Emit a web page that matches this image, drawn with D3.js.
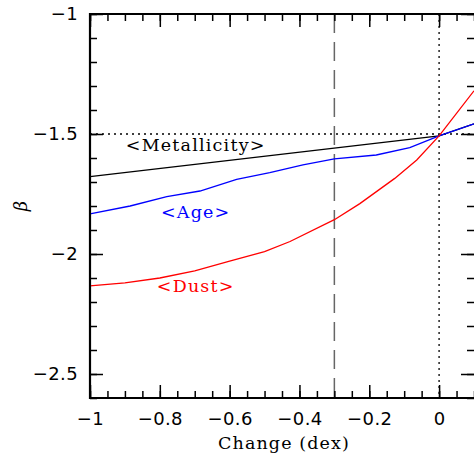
<!DOCTYPE html>
<html>
<head>
<meta charset="utf-8">
<script src="https://cdn.jsdelivr.net/npm/d3@7"></script>
<style>
  body { margin: 0; background: #fff; }
  svg { display: block; }
  .tick text { font-family: "DejaVu Sans", sans-serif; font-size: 18px; letter-spacing: 0.4px; fill: #000; }
</style>
</head>
<body>
<div id="chart"></div>
<script>
// series: [change (dex), beta]
const metallicity = [[-1, -1.678], [0, -1.508], [0.1, -1.458]];
const age = [[-1, -1.833], [-0.885, -1.80], [-0.78, -1.761], [-0.685, -1.7375], [-0.58, -1.689],
             [-0.485, -1.661], [-0.39, -1.629], [-0.30, -1.604], [-0.18, -1.5875], [-0.084, -1.557],
             [0, -1.508], [0.1, -1.458]];
const dust = [[-1, -2.133], [-0.9, -2.12], [-0.8, -2.10], [-0.7, -2.07], [-0.6, -2.03],
              [-0.5, -1.99], [-0.427, -1.948], [-0.3, -1.857], [-0.227, -1.79], [-0.127, -1.685],
              [-0.064, -1.608], [0, -1.508], [0.1, -1.32]];

const xMajor = [-1, -0.8, -0.6, -0.4, -0.2, 0];
const yMajor = [-2.5, -2, -1.5, -1];
const seriesNames = ["<Metallicity>", "<Age>", "<Dust>"];
const labelPos = [[-0.7, -1.55], [-0.7, -1.83], [-0.7, -2.14]];
const refX = [-0.3, 0];      // dashed, dotted
const refY = -1.5;

const W = 474, H = 462;
const margin = {top: 14, right: 0, bottom: 64, left: 90};

const svg = d3.select("#chart").append("svg")
    .attr("width", W)
    .attr("height", H);

const x = d3.scaleLinear().domain([-1, 0.1]).range([margin.left, W - margin.right]);
const y = d3.scaleLinear().domain([-2.6, -1]).range([H - margin.bottom, margin.top]);

const xMinor = d3.range(-1, 0.1001, 0.05).map(v => +v.toFixed(2));
const yMinor = d3.range(-2.6, -0.9999, 0.1).map(v => +v.toFixed(2));
const fmt = d3.format("");

// reference lines
svg.append("line")
    .attr("x1", x(-1)).attr("x2", x(0.1))
    .attr("y1", y(refY)).attr("y2", y(refY))
    .attr("stroke", "#000").attr("stroke-width", 1.3)
    .attr("stroke-dasharray", "2,4");

svg.append("line")
    .attr("x1", x(refX[0])).attr("x2", x(refX[0]))
    .attr("y1", y(-1)).attr("y2", y(-2.6))
    .attr("stroke", "#666").attr("stroke-width", 1.5)
    .attr("stroke-dasharray", "19,9");

svg.append("line")
    .attr("x1", x(refX[1])).attr("x2", x(refX[1]))
    .attr("y1", y(-1)).attr("y2", y(-2.6))
    .attr("stroke", "#000").attr("stroke-width", 1.3)
    .attr("stroke-dasharray", "2,4");

// data lines
const line = d3.line().x(d => x(d[0])).y(d => y(d[1]));
const series = [
    {data: metallicity, color: "#000"},
    {data: age, color: "#0000ff"},
    {data: dust, color: "#ff0000"}
];
series.forEach((s, i) => {
    svg.append("path")
        .datum(s.data)
        .attr("fill", "none")
        .attr("stroke", s.color)
        .attr("stroke-width", 1.3)
        .attr("d", line);

    svg.append("text")
        .attr("x", x(labelPos[i][0]) + 1)
        .attr("y", y(labelPos[i][1]))
        .attr("text-anchor", "middle")
        .attr("dominant-baseline", "middle")
        .attr("font-family", "DejaVu Serif, serif")
        .attr("font-size", 17.5)
        .attr("letter-spacing", "1.2px")
        .attr("fill", s.color)
        .text(seriesNames[i]);
});

// axes
function styleAxis(g) {
    g.select(".domain").remove();
    g.selectAll(".tick line").attr("stroke", "#000").attr("stroke-width", 1.5);
}

const pBottom = H - margin.bottom, pTop = margin.top, pLeft = margin.left, pRight = W - margin.right;

svg.append("g").attr("transform", `translate(0,${pBottom})`)
    .call(d3.axisBottom(x).tickValues(xMajor).tickSize(-13).tickPadding(14).tickFormat(fmt))
    .call(styleAxis);
svg.append("g").attr("transform", `translate(0,${pBottom})`)
    .call(d3.axisBottom(x).tickValues(xMinor).tickSize(-7).tickFormat(""))
    .call(styleAxis);
svg.append("g").attr("transform", `translate(0,${pTop})`)
    .call(d3.axisTop(x).tickValues(xMajor).tickSize(-13).tickFormat(""))
    .call(styleAxis);
svg.append("g").attr("transform", `translate(0,${pTop})`)
    .call(d3.axisTop(x).tickValues(xMinor).tickSize(-7).tickFormat(""))
    .call(styleAxis);

svg.append("g").attr("transform", `translate(${pLeft},0)`)
    .call(d3.axisLeft(y).tickValues(yMajor).tickSize(-13).tickPadding(12).tickFormat(fmt))
    .call(styleAxis);
svg.append("g").attr("transform", `translate(${pLeft},0)`)
    .call(d3.axisLeft(y).tickValues(yMinor).tickSize(-7).tickFormat(""))
    .call(styleAxis);
svg.append("g").attr("transform", `translate(${pRight},0)`)
    .call(d3.axisRight(y).tickValues(yMajor).tickSize(-13).tickFormat(""))
    .call(styleAxis);
svg.append("g").attr("transform", `translate(${pRight},0)`)
    .call(d3.axisRight(y).tickValues(yMinor).tickSize(-7).tickFormat(""))
    .call(styleAxis);

// frame
svg.append("path")
    .attr("d", `M${pRight + 2},${pTop}H${pLeft}V${pBottom}H${pRight + 2}`)
    .attr("fill", "none")
    .attr("stroke", "#000")
    .attr("stroke-width", 2.2);

// axis titles
svg.append("text")
    .attr("x", (pLeft + pRight) / 2 + 2)
    .attr("y", 449)
    .attr("text-anchor", "middle")
    .attr("font-family", "DejaVu Serif, serif")
    .attr("font-size", 17.5)
    .attr("letter-spacing", "1.1px")
    .text("Change (dex)");

svg.append("text")
    .attr("transform", "translate(27,206) rotate(-90)")
    .attr("text-anchor", "middle")
    .attr("font-family", "DejaVu Serif, serif")
    .attr("font-style", "italic")
    .attr("font-size", 18)
    .text("β");
</script>
</body>
</html>
